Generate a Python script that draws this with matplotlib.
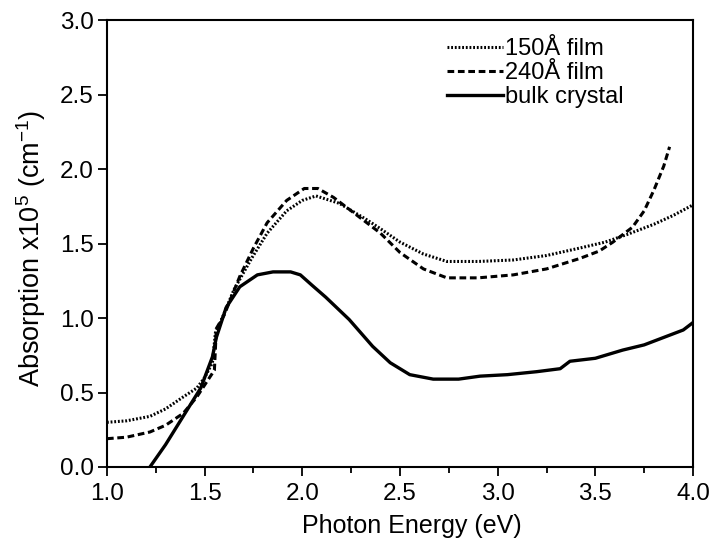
import matplotlib
matplotlib.use("Agg")
import matplotlib.pyplot as plt
from matplotlib.ticker import MultipleLocator

plt.rcParams['font.family'] = ['Liberation Sans', 'DejaVu Sans']
plt.rcParams['mathtext.fontset'] = 'custom'
plt.rcParams['mathtext.rm'] = 'Liberation Sans'
plt.rcParams['mathtext.it'] = 'Liberation Sans:italic'
plt.rcParams['mathtext.bf'] = 'Liberation Sans:bold'

# 150 Å film (dotted)
x150 = [1.00, 1.10, 1.22, 1.30, 1.39, 1.46, 1.50, 1.54, 1.555, 1.58, 1.65, 1.74, 1.82, 1.92, 2.00, 2.07,
        2.19, 2.33, 2.40, 2.50, 2.62, 2.74, 2.90, 3.08, 3.25, 3.42, 3.55, 3.66, 3.80, 3.90, 4.00]
y150 = [0.30, 0.31, 0.34, 0.39, 0.47, 0.53, 0.60, 0.70, 0.90, 0.97, 1.19, 1.40, 1.57, 1.72, 1.79, 1.82,
        1.77, 1.66, 1.60, 1.51, 1.43, 1.38, 1.38, 1.39, 1.42, 1.47, 1.51, 1.56, 1.63, 1.69, 1.76]

# 240 Å film (dashed)
x240 = [1.00, 1.10, 1.22, 1.30, 1.39, 1.46, 1.50, 1.55, 1.56, 1.60, 1.68, 1.75, 1.82, 1.92, 2.01, 2.08,
        2.16, 2.25, 2.33, 2.40, 2.50, 2.62, 2.74, 2.90, 3.08, 3.25, 3.42, 3.52, 3.59, 3.69, 3.75, 3.80, 3.85, 3.88]
y240 = [0.19, 0.20, 0.235, 0.28, 0.36, 0.47, 0.55, 0.65, 0.93, 1.02, 1.28, 1.47, 1.64, 1.79, 1.87, 1.87,
        1.81, 1.72, 1.64, 1.57, 1.44, 1.33, 1.27, 1.27, 1.29, 1.33, 1.40, 1.45, 1.51, 1.61, 1.72, 1.86, 2.02, 2.15]

# bulk crystal (solid)
xbulk = [1.22, 1.30, 1.39, 1.48, 1.54, 1.56, 1.61, 1.68, 1.77, 1.85, 1.94, 1.99, 2.05, 2.12, 2.24, 2.36,
         2.45, 2.55, 2.67, 2.80, 2.91, 3.05, 3.20, 3.32, 3.37, 3.50, 3.64, 3.75, 3.85, 3.95, 4.00]
ybulk = [0.00, 0.15, 0.34, 0.53, 0.74, 0.87, 1.07, 1.21, 1.29, 1.31, 1.31, 1.29, 1.22, 1.14, 0.99, 0.81,
         0.70, 0.62, 0.59, 0.59, 0.61, 0.62, 0.64, 0.66, 0.71, 0.73, 0.785, 0.82, 0.87, 0.92, 0.97]

labels = ['150Å film', '240Å film', 'bulk crystal']

fig = plt.figure(figsize=(7.13, 5.46), dpi=100)
ax = fig.add_axes([0.150, 0.1447, 0.822, 0.8183])

ax.plot(x150, y150, color='black', lw=2.2, linestyle=(0, (0.6, 0.6)), label=labels[0])
ax.plot(x240, y240, color='black', lw=2.2, linestyle=(0, (2.2, 1.2)), label=labels[1])
ax.plot(xbulk, ybulk, color='black', lw=2.4, linestyle='-', label=labels[2])

ax.set_xlim(1.0, 4.0)
ax.set_ylim(0.0, 3.0)
ax.xaxis.set_major_locator(MultipleLocator(0.5))
ax.xaxis.set_minor_locator(MultipleLocator(0.25))
ax.yaxis.set_major_locator(MultipleLocator(0.5))
ax.tick_params(axis='both', which='both', direction='out', width=1.3, labelsize=17.5)
ax.tick_params(axis='both', which='major', length=6.5)
ax.tick_params(axis='both', which='minor', length=4)
ax.tick_params(axis='y', which='major', pad=3)
ax.tick_params(axis='x', which='major', pad=5)
for s in ax.spines.values():
    s.set_linewidth(1.5)

ax.set_xlabel('Photon Energy (eV)', fontsize=18)
ax.xaxis.set_label_coords(0.52, -0.105)
ax.set_ylabel(r'Absorption x10$^{5}$ (cm$^{-1}$)', fontsize=19.5)
ax.yaxis.set_label_coords(-0.10, 0.49)

leg = ax.legend(loc='upper left', frameon=False, fontsize=17, handlelength=2.37,
                handletextpad=0.1, labelspacing=0.09, borderpad=0.0, borderaxespad=0.0,
                bbox_to_anchor=(0.58, 0.96))

fig.savefig('out.png', dpi=100)
